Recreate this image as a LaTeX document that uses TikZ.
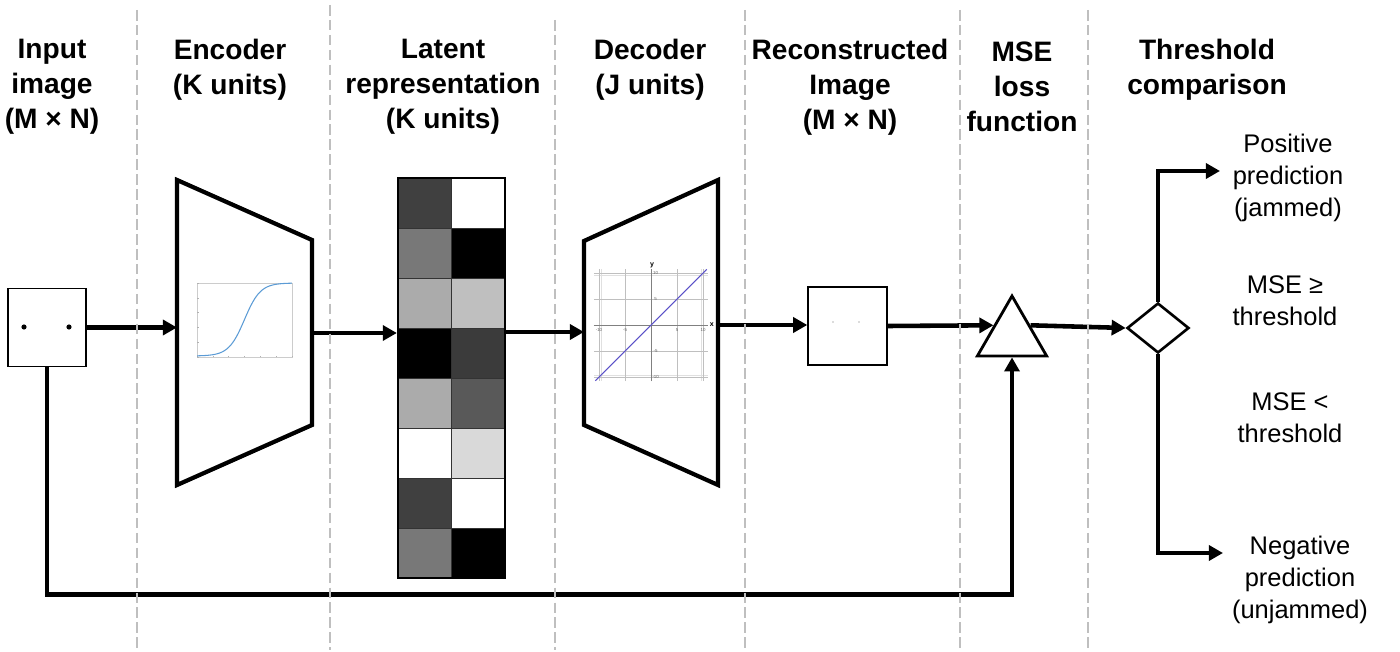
\documentclass[tikz,border=0pt]{standalone}
\usepackage{fontspec}
\setmainfont{Liberation Sans}
\usetikzlibrary{arrows.meta,shapes.geometric}

\tikzset{
    head/.style={font=\bfseries\fontsize{16}{19.8}\selectfont, align=center},
    outtext/.style={font=\fontsize{14.5}{18}\selectfont, align=center},
    sep/.style={draw=black!25, line width=1.1pt, dash pattern=on 6pt off 2.5pt},
    flow/.style={line width=2.6pt, -{Triangle[length=8pt,width=8.5pt]}},
    imgbox/.style={draw, line width=1.1pt, minimum width=15.7mm, minimum height=15.6mm, inner sep=0pt},
    layer/.style={line width=2.4pt, line join=miter}
}

\begin{document}
\begin{tikzpicture}[x=0.2mm, y=-0.2mm]
        \useasboundingbox (0,0) rectangle (1400,652);

        %headers
        \node[head] (hin) at (52,87) {Input\\image\\(M × N)};
        \node[head] (henc) at (230,70) {Encoder\\(K units)};
        \node[head] (hlat) at (443,87) {Latent\\representation\\(K units)};
        \node[head] (hdec) at (650,70) {Decoder\\(J units)};
        \node[head] (hrec) at (850,87) {Reconstructed\\Image\\(M × N)};
        \node[head] (hmse) at (1022,87) {MSE\\loss\\function};
        \node[head] (hthr) at (1207,70) {Threshold\\comparison};

        %input image
        \node[imgbox] (inimg) at (47,327.5) {};
        \fill (24,327) circle (2.6);
        \fill (69,327) circle (2.6);

        %encoder
        \draw[layer] (177,180) -- (312,240) -- (312,425) -- (177,485) -- cycle;
        \coordinate (encL) at (177,331);
        \coordinate (encR) at (312,333);
        \draw[black!20, line width=0.3pt] (197,283) rectangle (292,357);
        \foreach \i in {0,...,6}
            \draw[black!30, line width=0.3pt] (197+\i*15.8,357) -- ++(0,-1.5);
        \foreach \i in {0,...,5}
            \draw[black!30, line width=0.3pt] (197,357-\i*14.8) -- ++(1.5,0);
        \draw[color={rgb,255:red,91;green,155;blue,213}, line width=0.6pt]
            plot[domain=-6:6, samples=60, smooth] ({244.5+7.9*\x},{356-73/(1+exp(-\x))});

        %latent representation
        \foreach \r/\a/\b in {0/75/0, 1/53/100, 2/33/25, 3/100/77, 4/33/65, 5/0/15, 6/75/0, 7/53/100}{
            \fill[black!\a] (398,178+50*\r) rectangle ++(53.5,50);
            \fill[black!\b] (451.5,178+50*\r) rectangle ++(53.5,50);
            \draw[black!80, line width=0.4pt] (398,178+50*\r) rectangle ++(107,50);
            \draw[black!80, line width=0.4pt] (451.5,178+50*\r) -- ++(0,50);
        }
        \node[draw, line width=1.3pt, minimum width=21.4mm, minimum height=80mm, inner sep=0pt] (latent) at (451.5,378) {};

        %decoder
        \draw[layer] (584,241) -- (718,180) -- (718,485) -- (584,425) -- cycle;
        \coordinate (decL) at (584,332);
        \coordinate (decR) at (718,325);
        \begin{scope}[shift={(651,325)}, x=1.04mm, y=1.04mm]
            \draw[black!12, line width=0.25pt] (-11,-10.8) grid (11,10.8);
            \draw[black!25, line width=0.3pt, step=5] (-11,-10.8) grid (11,10.8);
            \draw[black!50, line width=0.4pt] (-11,0) -- (11,0);
            \draw[black!50, line width=0.4pt] (0,-10.8) -- (0,10.8);
            \draw[color={rgb,255:red,90;green,80;blue,200}, line width=0.6pt] (-10.7,-10.7) -- (10.7,10.7);
            \node[font=\bfseries\fontsize{4}{4}\selectfont, inner sep=0pt] (xlab) at (11.7,0) {x};
            \node[font=\bfseries\fontsize{4}{4}\selectfont, inner sep=0pt] (ylab) at (0.2,11.4) {y};
            \foreach \v in {-10,-5,5,10}{
                \node[font=\fontsize{2.5}{3}\selectfont, text=black!60, inner sep=0pt] at (\v,-0.9) {\v};
                \node[font=\fontsize{2.5}{3}\selectfont, text=black!60, inner sep=0pt] at (0.9,\v) {\v};
            }
        \end{scope}

        %reconstructed image
        \node[imgbox] (recon) at (847.5,326) {};
        \fill[black!60] (833,322) circle (0.7);
        \fill[black!60] (859,322) circle (0.7);

        %loss and threshold
        \node[regular polygon, regular polygon sides=3, draw, line width=1.6pt, minimum size=16mm, inner sep=0pt] (tri) at (1012,336) {};
        \node[diamond, draw, line width=1.5pt, minimum width=12.4mm, minimum height=10mm, inner sep=0pt] (dia) at (1158,328) {};
        \coordinate (pos) at (1220,171);
        \coordinate (neg) at (1223,553);

        %outcomes
        \node[outtext] (tpos) at (1288,178) {Positive\\prediction\\(jammed)};
        \node[outtext] (tge) at (1285,301) {MSE ≥\\threshold};
        \node[outtext] (tlt) at (1290,418) {MSE <\\threshold};
        \node[outtext] (tneg) at (1300,580) {Negative\\prediction\\(unjammed)};

        %arrows
        \draw[flow] (inimg.east) -- (inimg.east -| encL);
        \draw[flow] (encR) -- (encR -| latent.west);
        \draw[flow] (latent.east |- decL) -- (decL);
        \draw[flow] (decR) -- (decR -| recon.west);
        \draw[flow] (recon.east) -- (tri.side 1);
        \draw[flow] (tri.side 3) -- (dia.west);
        \draw[flow] (inimg.south) -- ++(0,227) -| (tri.south);
        \draw[flow, line width=2.3pt] (dia.north) |- (pos);
        \draw[flow, line width=2.3pt] (dia.south) |- (neg);

        %separators
        \foreach \x/\t in {137/10, 330/5, 555/20, 745/10, 960/10, 1088/10}
            \draw[sep] (\x,\t) -- (\x,650);
    \end{tikzpicture}
\end{document}
